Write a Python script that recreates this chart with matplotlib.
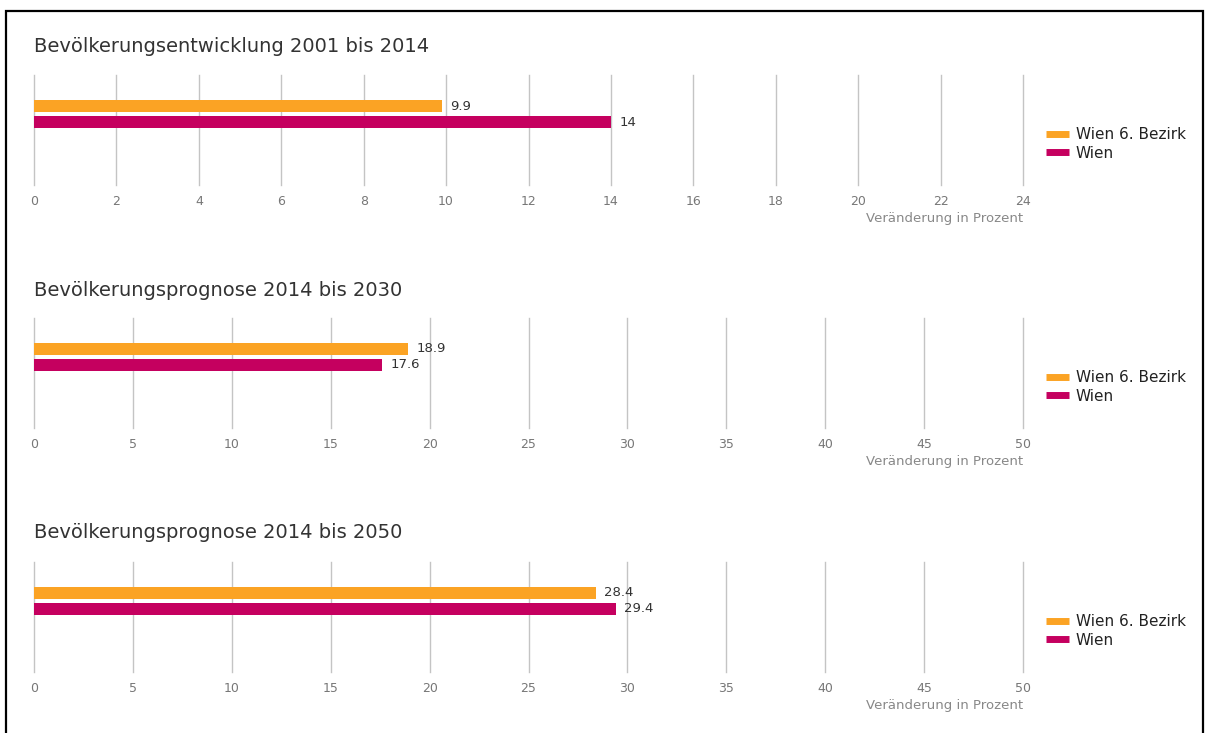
import matplotlib.pyplot as plt
from matplotlib.lines import Line2D
from matplotlib.patches import Rectangle

# daten
serien = ["Wien 6. Bezirk", "Wien"]
farben = ["#FBA324", "#C5005F"]
titel = ["Bevölkerungsentwicklung 2001 bis 2014",
         "Bevölkerungsprognose 2014 bis 2030",
         "Bevölkerungsprognose 2014 bis 2050"]
werte_2001_2014 = [9.9, 14]
werte_2014_2030 = [18.9, 17.6]
werte_2014_2050 = [28.4, 29.4]
werte = [werte_2001_2014, werte_2014_2030, werte_2014_2050]
achsen_max = [24, 50, 50]
achsen_schritt = [2, 5, 5]
achsen_text = "Veränderung in Prozent"

W, H = 1207, 733
fig = plt.figure(figsize=(W / 100, H / 100), dpi=100)

# rahmen um das ganze bild
fig.patches.append(Rectangle((6 / W, -0.1), (1203 - 6) / W, 1.1 - 11 / H,
                             transform=fig.transFigure, fill=False,
                             edgecolor="black", linewidth=1.6))

# pixel-positionen der panels (titel y, achse oben)
panels = [(46, 75), (290, 318), (533, 562)]
hoehe = 110
links, rechts = 34, 1023
px_pro_einheit = 16
abstand_oben = 31

for i, (ty, oben) in enumerate(panels):
    unten = oben + hoehe
    ax = fig.add_axes([links / W, 1 - unten / H, (rechts - links) / W, hoehe / H])
    fig.text(links / W, 1 - ty / H, titel[i], fontsize=14, color="#333333",
             va="center", ha="left")

    ax.set_ylim((hoehe - abstand_oben) / px_pro_einheit, -abstand_oben / px_pro_einheit)
    for j, v in enumerate(werte[i]):
        ax.barh(j, v, height=0.75, color=farben[j], zorder=3)
        ax.annotate(f"{v:g}", (v, j), xytext=(6, 0), textcoords="offset points",
                    va="center", ha="left", fontsize=9.5, color="#333333")

    ax.set_xlim(0, achsen_max[i])
    ax.set_xticks(range(0, achsen_max[i] + 1, achsen_schritt[i]))
    ax.set_yticks([])
    ax.tick_params(axis="x", length=0, pad=7, labelsize=9, labelcolor="#777777")
    ax.grid(axis="x", color="#c4c4c4", linewidth=1)
    for line in ax.get_xgridlines():
        line.set_clip_on(False)
    for s in ax.spines.values():
        s.set_visible(False)
    ax.set_xlabel(achsen_text, fontsize=9.5, color="#888888", loc="right", labelpad=3)

    handles = [Line2D([], [], color=farben[k], linewidth=5, solid_capstyle="butt")
               for k in range(2)]
    mitte = oben + hoehe / 2 + 14
    ax.legend(handles, serien, loc="center left",
              bbox_to_anchor=(1032 / W, 1 - mitte / H), bbox_transform=fig.transFigure,
              frameon=False, fontsize=11, handlelength=1.5, handletextpad=0.45,
              labelspacing=0.2, labelcolor="#222222")

plt.savefig("out.png", dpi=100)
